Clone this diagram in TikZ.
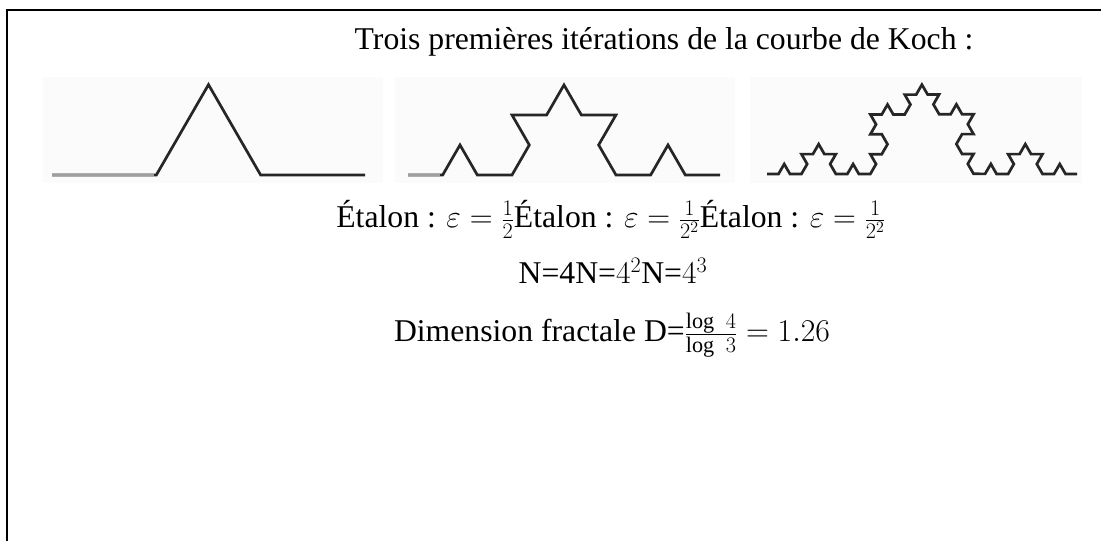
\RequirePackage{fix-cm}
\documentclass[tikz,border=0pt]{standalone}
\usepackage{fontspec}
\setmainfont{Liberation Serif}
\usetikzlibrary{decorations.fractals}
\begin{document}
\begin{tikzpicture}[x=1pt,y=1pt,
  koch/.style={line width=2.7pt, line join=miter, black!85, decoration=Koch snowflake},
  startgray/.style={line width=2.7pt, gray!75},
  imgbg/.style={fill=black!1.5},
  frame/.style={line width=2pt},
  txt/.style={inner sep=0pt, anchor=base, font=\fontsize{31.7}{38}\selectfont}]
\useasboundingbox (0,0) rectangle (1101,541);
\fill[white] (0,0) rectangle (1101,541);
\draw[frame] (7,0) -- (7,531) -- (1101,531);
% image backgrounds
\fill[imgbg] (43,358) rectangle (383,464);
\fill[imgbg] (395,358) rectangle (735,464);
\fill[imgbg] (750,358) rectangle (1082,464);
% Koch curves
\draw[koch] decorate{(52,366) -- (365,366)};
\draw[startgray] (52,366) -- (154,366);
\draw[koch] decorate{decorate{(408,366) -- (720,366)}};
\draw[startgray] (408,366) -- (440,366);
\draw[koch] decorate{decorate{decorate{(767,367) -- (1077,367)}}};
% texts
\node[txt] (title) at (664,491) {Trois premières itérations de la courbe de Koch :};
\node[txt] (etalon) at (611,313) {Étalon : $\varepsilon = \frac{1}{2}$Étalon : $\varepsilon = \frac{1}{2^2}$Étalon : $\varepsilon = \frac{1}{2^2}$};
\node[txt] (nline) at (613,257) {N=4N=$4^2$N=$4^3$};
\node[txt] (dim) at (612,199) {Dimension fractale D=$\frac{\log\ 4}{\log\ 3} = 1.26$};
\end{tikzpicture}
\end{document}
